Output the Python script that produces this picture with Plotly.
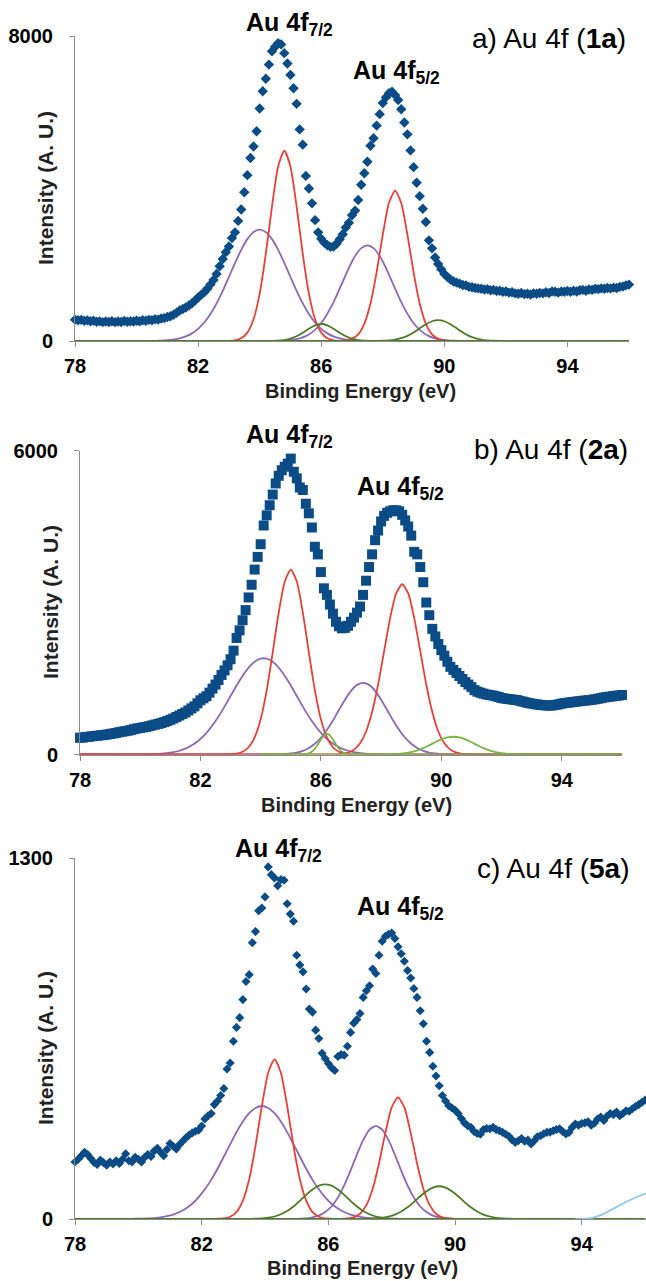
import plotly.graph_objects as go

W, H = 646, 1281

# ---------------- measured data (0.1 eV grid, 78.0 -> 96.0) ----------------
E_START, E_STEP = 78.0, 0.1

A_DATA = [
    560, 545, 555, 530, 540, 520, 530, 505, 515, 495,
    510, 500, 520, 495, 510, 500, 525, 505, 520, 510,
    530, 520, 545, 530, 555, 545, 570, 560, 590, 600,
    630, 650, 690, 740, 800, 840, 880, 930, 990, 1060,
    1140, 1210, 1280, 1370, 1480, 1600, 1760, 1960, 2150, 2330,
    2480, 2700, 2850, 3150, 3450, 3900, 4350, 4800, 5100, 5500,
    6100, 6550, 6880, 7250, 7600, 7720, 7810, 7780, 7550, 7280,
    6980, 6630, 6220, 5550, 5150, 4330, 4000, 3610, 3170, 2850,
    2680, 2580, 2510, 2470, 2480, 2550, 2670, 2800, 2980, 3100,
    3300, 3420, 3700, 4100, 4400, 4700, 5120, 5320, 5650, 5950,
    6240, 6390, 6500, 6540, 6450, 6320, 6080, 5730, 5420, 5000,
    4560, 4150, 3800, 3470, 3120, 2640, 2430, 2190, 2020, 1880,
    1760, 1680, 1610, 1560, 1530, 1500, 1470, 1460, 1420, 1410,
    1390, 1380, 1370, 1350, 1360, 1330, 1340, 1310, 1320, 1290,
    1300, 1270, 1280, 1250, 1240, 1260, 1230, 1240, 1220, 1250,
    1240, 1260, 1250, 1280, 1260, 1300, 1290, 1270, 1300, 1290,
    1310, 1290, 1320, 1300, 1330, 1340, 1320, 1350, 1340, 1370,
    1360, 1380, 1370, 1390, 1380, 1400, 1390, 1420, 1430, 1460,
    1480,
]

B_DATA = [
    330, 335, 345, 350, 360, 365, 372, 380, 385, 395,
    405, 415, 425, 440, 450, 460, 470, 485, 500, 515,
    525, 535, 545, 560, 575, 590, 605, 620, 640, 660,
    685, 710, 740, 770, 800, 830, 870, 910, 950, 1010,
    1070, 1110, 1150, 1220, 1300, 1380, 1470, 1570, 1660, 1760,
    1880, 2050, 2300, 2450, 2650, 2850, 3100, 3350, 3650, 3900,
    4150, 4520, 4720, 4920, 5130, 5350, 5500, 5610, 5680, 5740,
    5840, 5580, 5450, 5270, 5220, 4950, 4760, 4480, 4100, 3950,
    3600, 3280, 3150, 2960, 2780, 2620, 2530, 2490, 2500, 2540,
    2620, 2700, 2800, 2920, 3150, 3430, 3700, 3950, 4230, 4420,
    4600, 4710, 4770, 4800, 4820, 4820, 4800, 4730, 4620, 4500,
    4320, 4000, 3950, 3700, 3400, 3000, 2750, 2480, 2330, 2180,
    2060, 1950, 1830, 1730, 1670, 1610, 1550, 1490, 1430, 1380,
    1330, 1270, 1240, 1220, 1200, 1185, 1175, 1165, 1150, 1135,
    1115, 1105, 1095, 1090, 1080, 1075, 1060, 1045, 1030, 1015,
    1005, 995, 985, 978, 972, 968, 964, 970, 980, 990,
    1005, 1015, 1022, 1030, 1038, 1045, 1052, 1060, 1066, 1072,
    1080, 1090, 1100, 1112, 1125, 1135, 1142, 1150, 1158, 1165,
    1175,
]

C_DATA = [
    205, 215, 228, 240, 232, 218, 204, 196, 212, 203,
    194, 205, 198, 210, 200, 215, 235, 210, 205, 222,
    215, 205, 222, 232, 225, 245, 255, 240, 228, 250,
    272, 262, 252, 268, 280, 292, 302, 310, 316, 320,
    335, 360, 372, 380, 412, 425, 445, 470, 540, 562,
    640, 690, 725, 790, 855, 880, 995, 1035, 1110, 1120,
    1160, 1268, 1240, 1228, 1200, 1222, 1220, 1135, 1098, 1072,
    950, 915, 890, 828, 756, 745, 680, 650, 597, 578,
    560, 545, 535, 585, 592, 590, 622, 672, 705, 718,
    740, 798, 822, 840, 900, 884, 950, 1000, 1018, 1025,
    1030, 1010, 980, 955, 928, 895, 868, 830, 798, 750,
    703, 640, 600, 550, 515, 480, 445, 425, 408, 400,
    392, 380, 362, 346, 336, 330, 315, 308, 305, 322,
    326, 325, 330, 322, 318, 312, 305, 298, 285, 276,
    282, 290, 280, 284, 270, 282, 296, 300, 307, 312,
    313, 318, 322, 325, 315, 306, 312, 330, 342, 338,
    344, 346, 350, 338, 345, 360, 367, 355, 370, 380,
    376, 385, 372, 380, 390, 388, 397, 405, 412, 420,
    428,
]

# ---------------- fitted components (start eV, values on a 0.2 eV step) ----------------
A_PURPLE1_START, A_PURPLE1 = 80.4, [2, 5, 10, 20, 38, 69, 120, 200, 318, 485, 707, 987, 1314, 1679, 2047, 2391, 2672, 2856, 2920, 2856, 2672, 2391, 2047, 1679, 1314, 987, 707, 485, 318, 200, 120, 69, 38, 20, 10, 5, 2]
A_RED1_START, A_RED1 = 82.8, [1, 4, 19, 71, 220, 569, 1243, 2285, 3528, 4576, 4990, 4576, 3528, 2285, 1243, 569, 220, 71, 19, 4, 1]
A_GREEN1_START, A_GREEN1 = 84.0, [0, 1, 3, 9, 25, 60, 124, 217, 324, 412, 446, 412, 324, 217, 124, 60, 25, 9, 3, 1, 0]
A_PURPLE2_START, A_PURPLE2 = 84.5, [3, 7, 17, 35, 69, 128, 226, 374, 585, 861, 1192, 1559, 1920, 2229, 2437, 2510, 2437, 2229, 1920, 1559, 1192, 861, 585, 374, 226, 128, 69, 35, 17, 7, 3]
A_RED2_START, A_RED2 = 86.4, [1, 4, 15, 56, 174, 450, 982, 1807, 2789, 3618, 3945, 3618, 2789, 1807, 982, 450, 174, 56, 15, 4, 1]
A_GREEN2_START, A_GREEN2 = 87.4, [0, 1, 2, 6, 16, 36, 74, 136, 225, 333, 439, 518, 548, 518, 439, 333, 225, 136, 74, 36, 16, 6, 2, 1, 0]

B_PURPLE1_START, B_PURPLE1 = 79.9, [1, 2, 5, 9, 16, 28, 46, 74, 116, 176, 257, 363, 498, 659, 846, 1049, 1258, 1459, 1638, 1778, 1870, 1900, 1870, 1778, 1638, 1459, 1258, 1049, 846, 659, 498, 363, 257, 176, 116, 74, 46, 28, 16, 9, 5, 2, 1]
B_RED1_START, B_RED1 = 83.0, [5, 17, 53, 143, 338, 697, 1267, 2015, 2803, 3416, 3650, 3416, 2803, 2015, 1267, 697, 338, 143, 53, 17, 5]
B_GREEN1_START, B_GREEN1 = 85.2, [0, 1, 2, 8, 23, 55, 114, 200, 298, 378, 410, 378, 298, 200, 114, 55, 23, 8, 2, 1, 0]  # 0.1 eV step
B_PURPLE2_START, B_PURPLE2 = 84.4, [2, 4, 9, 20, 39, 72, 127, 211, 330, 485, 672, 879, 1082, 1257, 1374, 1415, 1374, 1257, 1082, 879, 672, 485, 330, 211, 127, 72, 39, 20, 9, 4, 2]
B_RED2_START, B_RED2 = 86.5, [4, 13, 37, 96, 221, 454, 837, 1381, 2040, 2691, 3179, 3360, 3179, 2691, 2040, 1381, 837, 454, 221, 96, 37, 13, 4]
B_GREEN2_START, B_GREEN2 = 87.8, [0, 1, 3, 6, 13, 26, 47, 81, 126, 182, 243, 297, 336, 350, 336, 297, 243, 182, 126, 81, 47, 26, 13, 6, 3, 1, 0]

C_PURPLE1_START, C_PURPLE1 = 79.7, [0, 1, 1, 2, 3, 6, 10, 16, 25, 38, 55, 78, 107, 141, 181, 225, 269, 313, 351, 381, 400, 407, 400, 381, 351, 313, 269, 225, 181, 141, 107, 78, 55, 38, 25, 16, 10, 6, 3, 2, 1, 1, 0]
C_RED1_START, C_RED1 = 82.3, [0, 1, 2, 8, 25, 66, 143, 263, 407, 527, 575, 527, 407, 263, 143, 66, 25, 8, 2, 1, 0]
C_GREEN1_START, C_GREEN1 = 83.3, [0, 0, 1, 2, 5, 9, 17, 29, 45, 65, 87, 106, 120, 125, 120, 106, 87, 65, 45, 29, 17, 9, 5, 2, 1, 0, 0]
C_PURPLE2_START, C_PURPLE2 = 84.9, [0, 1, 2, 6, 12, 25, 45, 77, 121, 174, 232, 284, 322, 335, 322, 284, 232, 174, 121, 77, 45, 25, 12, 6, 2, 1, 0]
C_RED2_START, C_RED2 = 86.2, [0, 0, 2, 6, 19, 50, 109, 201, 310, 402, 438, 402, 310, 201, 109, 50, 19, 6, 2, 0, 0]
C_GREEN2_START, C_GREEN2 = 86.9, [0, 0, 1, 2, 4, 9, 16, 27, 42, 61, 82, 100, 113, 118, 113, 100, 82, 61, 42, 27, 16, 9, 4, 2, 1, 0, 0]
C_BLUE_START, C_BLUE = 93.8, [0, 0, 2, 6, 14, 25, 37, 49, 61, 72, 82, 91, 99]

COMP_STEP = 0.2
X_TICKS = [78, 82, 86, 90, 94]
Y_MAX = [8000, 6000, 1300]
PANEL_LABELS = ["a) Au 4f (<b>1a</b>)", "b) Au 4f (<b>2a</b>)", "c) Au 4f (<b>5a</b>)"]
PEAK_LABELS = ["Au 4f<sub>7/2</sub>", "Au 4f<sub>5/2</sub>"]
X_TITLE = "Binding Energy (eV)"
Y_TITLE = "Intensity (A. U.)"

# ---------------- styling ----------------
DATA_COLOR = "#0B4C86"
PURPLE = "#8A68B4"
RED = "#E5413A"
GREEN_DARK = "#4F7A28"
GREEN_LIGHT = "#79B545"
LIGHT_BLUE = "#8DC6F0"
AXIS_GRAY = "#8C8C8C"
FONT = "Liberation Sans, Arial, sans-serif"


def energies(start, step, n):
    return [round(start + step * i, 2) for i in range(n)]


def comp_xy(start, vals, step=COMP_STEP, x0=78.0, x1=96.0):
    xs = energies(start, step, len(vals))
    return [x0] + xs + [x1], [0] + list(vals) + [0]


def px(x):
    return x / W


def py(y):
    return 1 - y / H


fig = go.Figure()

panels = [
    dict(data=A_DATA, symbol="diamond", size=8,
         comps=[(A_PURPLE1_START, A_PURPLE1, PURPLE, COMP_STEP, 78.0),
                (A_PURPLE2_START, A_PURPLE2, PURPLE, COMP_STEP, 78.0),
                (A_RED1_START, A_RED1, RED, COMP_STEP, 78.0),
                (A_RED2_START, A_RED2, RED, COMP_STEP, 78.0),
                (A_GREEN1_START, A_GREEN1, GREEN_DARK, COMP_STEP, 78.0),
                (A_GREEN2_START, A_GREEN2, GREEN_DARK, COMP_STEP, 78.0)],
         xdom=(75, 629), ydom=(341, 36), xmax=96.0),
    dict(data=B_DATA, symbol="square", size=10,
         comps=[(B_PURPLE1_START, B_PURPLE1, PURPLE, COMP_STEP, 78.0),
                (B_PURPLE2_START, B_PURPLE2, PURPLE, COMP_STEP, 78.0),
                (B_RED1_START, B_RED1, RED, COMP_STEP, 78.0),
                (B_RED2_START, B_RED2, RED, COMP_STEP, 78.0),
                (B_GREEN1_START, B_GREEN1, GREEN_LIGHT, 0.1, 84.0),
                (B_GREEN2_START, B_GREEN2, GREEN_LIGHT, COMP_STEP, 84.0)],
         xdom=(80, 622), ydom=(754.5, 450.5), xmax=96.0),
    dict(data=C_DATA, symbol="diamond", size=7,
         comps=[(C_PURPLE1_START, C_PURPLE1, PURPLE, COMP_STEP, 78.0),
                (C_PURPLE2_START, C_PURPLE2, PURPLE, COMP_STEP, 78.0),
                (C_RED1_START, C_RED1, RED, COMP_STEP, 78.0),
                (C_RED2_START, C_RED2, RED, COMP_STEP, 78.0),
                (C_GREEN1_START, C_GREEN1, GREEN_DARK, COMP_STEP, 78.0),
                (C_GREEN2_START, C_GREEN2, GREEN_DARK, COMP_STEP, 78.0),
                (C_BLUE_START, C_BLUE, LIGHT_BLUE, COMP_STEP, None)],
         xdom=(75, 646), ydom=(1219, 858), xmax=96.03),
]

for i, p in enumerate(panels):
    k = "" if i == 0 else str(i + 1)
    xa, ya = "x" + k, "y" + k
    for start, vals, color, step, x0 in p["comps"]:
        if x0 is None:
            xs, ys = energies(start, step, len(vals)), list(vals)
        else:
            xs, ys = comp_xy(start, vals, step, x0, 96.0)
        fig.add_trace(go.Scatter(x=xs, y=ys, mode="lines", xaxis=xa, yaxis=ya,
                                 line=dict(color=color, width=1.8, shape="spline", smoothing=0.6),
                                 showlegend=False, hoverinfo="skip", cliponaxis=True))
    fig.add_trace(go.Scatter(x=energies(E_START, E_STEP, len(p["data"])), y=p["data"],
                             mode="markers", xaxis=xa, yaxis=ya, cliponaxis=False,
                             marker=dict(symbol=p["symbol"], size=p["size"], color=DATA_COLOR,
                                         line=dict(width=0)),
                             showlegend=False))

    axis_common = dict(showgrid=False, zeroline=False, showline=True, linecolor=AXIS_GRAY,
                       linewidth=1, ticks="outside", ticklen=5, tickcolor=AXIS_GRAY,
                       automargin=False,
                       tickfont=dict(family=FONT, size=20, color="black", weight="bold"))
    fig.update_layout(**{
        ("xaxis" + k): dict(domain=[px(p["xdom"][0]), px(p["xdom"][1])], range=[78, p["xmax"]],
                            tickmode="array", tickvals=X_TICKS, anchor=ya,
                            ticklabelstandoff=2, **axis_common),
        ("yaxis" + k): dict(domain=[py(p["ydom"][0]), py(p["ydom"][1])], range=[0, Y_MAX[i]],
                            tickmode="array", tickvals=[0, Y_MAX[i]], anchor=xa,
                            ticklabelstandoff=12, **axis_common),
    })

annotations = []
# axis titles
xt = [(360, 391), (356, 805), (362, 1268)]
yt = [(46, 188), (50, 602), (45, 1048)]
for (x, y) in xt:
    annotations.append(dict(x=px(x), y=py(y), xref="paper", yref="paper", text=X_TITLE,
                            showarrow=False, xanchor="center", yanchor="middle",
                            font=dict(family=FONT, size=20, color="#222222", weight="bold")))
for (x, y) in yt:
    annotations.append(dict(x=px(x), y=py(y), xref="paper", yref="paper", text=Y_TITLE,
                            showarrow=False, xanchor="center", yanchor="middle", textangle=-90,
                            font=dict(family=FONT, size=21, color="#222222", weight="bold")))
# peak labels
pk = [[(289, 24), (396, 72)], [(289, 436), (401, 488)], [(278, 850), (401, 908)]]
for pair in pk:
    for lbl, (x, y) in zip(PEAK_LABELS, pair):
        annotations.append(dict(x=px(x), y=py(y), xref="paper", yref="paper", text=lbl,
                                showarrow=False, xanchor="center", yanchor="middle",
                                font=dict(family=FONT, size=25, color="black", weight="bold")))
# panel labels
pl = [(628, 38), (630, 450), (632, 868)]
for lbl, (x, y) in zip(PANEL_LABELS, pl):
    annotations.append(dict(x=px(x), y=py(y), xref="paper", yref="paper", text=lbl,
                            showarrow=False, xanchor="right", yanchor="middle",
                            font=dict(family=FONT, size=28, color="black")))

fig.update_layout(template="none", width=W, height=H, margin=dict(l=0, r=0, t=0, b=0, autoexpand=False),
                  paper_bgcolor="white", plot_bgcolor="white",
                  annotations=annotations, showlegend=False)

fig.write_html("out.html", config={"displayModeBar": False},
               post_script="document.body.style.margin='0px';document.body.style.overflow='hidden';")
